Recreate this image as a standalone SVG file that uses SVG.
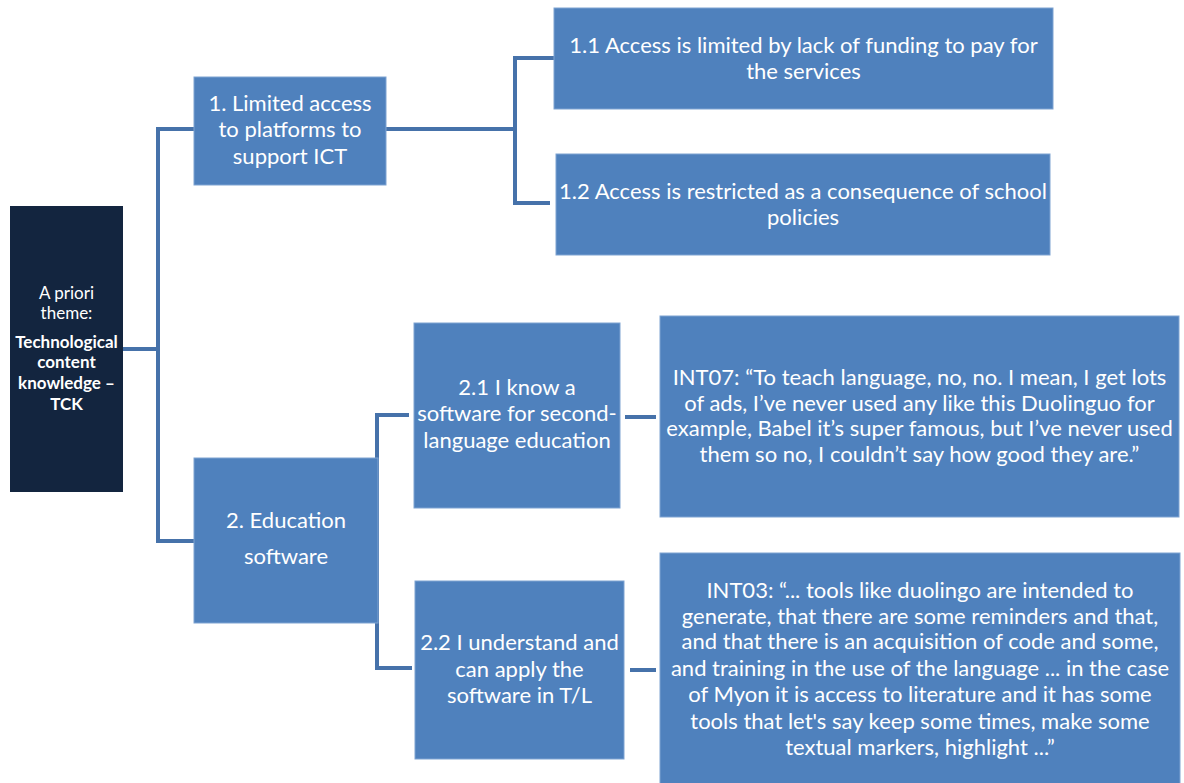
<svg xmlns="http://www.w3.org/2000/svg" width="1184" height="783" viewBox="0 0 1184 783">
<style>
.box{fill:#4f81bd;stroke:#7ea3d2;stroke-width:1}
.root{fill:#13253f}
.t{font-family:Lato,"Liberation Sans",sans-serif;font-size:22px;fill:#ffffff;text-anchor:middle}
.r{font-family:Lato,"Liberation Sans",sans-serif;font-size:17px;fill:#ffffff;text-anchor:middle}
.b{font-weight:bold}
.c{fill:none;stroke:#4672aa;stroke-width:4;stroke-linejoin:miter}
</style>
<rect width="1184" height="783" fill="#ffffff"/>
<g id="connectors">
<path class="c" d="M123 349 H158 M196 129 H158 V541 H196"/>
<path class="c" d="M386 129 H515 M554 58 H515 V203 H550"/>
<path class="c" d="M409 415 H377 V668 H412"/>
<path class="c" d="M625 417 H656"/>
<path class="c" d="M630 670 H656"/>
</g>
<g id="root">
<rect class="root" x="10" y="206" width="113" height="286"/>
<text class="r" x="66.5" y="299">A priori</text>
<text class="r" x="66.5" y="319">theme:</text>
<text class="r b" x="66.5" y="348">Technological</text>
<text class="r b" x="66.5" y="368">content</text>
<text class="r b" x="66.5" y="389">knowledge –</text>
<text class="r b" x="66.5" y="410">TCK</text>
</g>
<g id="n1">
<rect class="box" x="194" y="77" width="192" height="108"/>
<text class="t" x="290" y="111">1. Limited access</text>
<text class="t" x="290" y="137">to platforms to</text>
<text class="t" x="290" y="164">support ICT</text>
</g>
<g id="n11">
<rect class="box" x="554" y="8" width="499" height="101"/>
<text class="t" x="803.5" y="53">1.1 Access is limited by lack of funding to pay for</text>
<text class="t" x="803.5" y="79">the services</text>
</g>
<g id="n12">
<rect class="box" x="556" y="154" width="494" height="101"/>
<text class="t" x="803" y="199">1.2 Access is restricted as a consequence of school</text>
<text class="t" x="803" y="225">policies</text>
</g>
<g id="n2">
<rect class="box" x="194" y="458" width="184" height="165"/>
<text class="t" x="286" y="528">2. Education</text>
<text class="t" x="286" y="564">software</text>
</g>
<g id="n21">
<rect class="box" x="414" y="323" width="206" height="185"/>
<text class="t" x="517" y="395">2.1 I know a</text>
<text class="t" x="517" y="421">software for second-</text>
<text class="t" x="517" y="448">language education</text>
</g>
<g id="n22">
<rect class="box" x="415" y="581" width="209" height="178"/>
<text class="t" x="519.5" y="650">2.2 I understand and</text>
<text class="t" x="519.5" y="677">can apply the</text>
<text class="t" x="519.5" y="703">software in T/L</text>
</g>
<g id="q07">
<rect class="box" x="660" y="316" width="519" height="201"/>
<text class="t" x="919.5" y="385">INT07: “To teach language, no, no. I mean, I get lots</text>
<text class="t" x="919.5" y="411">of ads, I’ve never used any like this Duolinguo for</text>
<text class="t" x="919.5" y="436">example, Babel it’s super famous, but I’ve never used</text>
<text class="t" x="919.5" y="462">them so no, I couldn’t say how good they are.”</text>
</g>
<g id="q03">
<rect class="box" x="660" y="553" width="520" height="232"/>
<text class="t" x="920" y="598">INT03: “... tools like duolingo are intended to</text>
<text class="t" x="920" y="624">generate, that there are some reminders and that,</text>
<text class="t" x="920" y="649">and that there is an acquisition of code and some,</text>
<text class="t" x="920" y="676">and training in the use of the language ... in the case</text>
<text class="t" x="920" y="702">of Myon it is access to literature and it has some</text>
<text class="t" x="920" y="729">tools that let's say keep some times, make some</text>
<text class="t" x="920" y="755">textual markers, highlight ...”</text>
</g>
</svg>
